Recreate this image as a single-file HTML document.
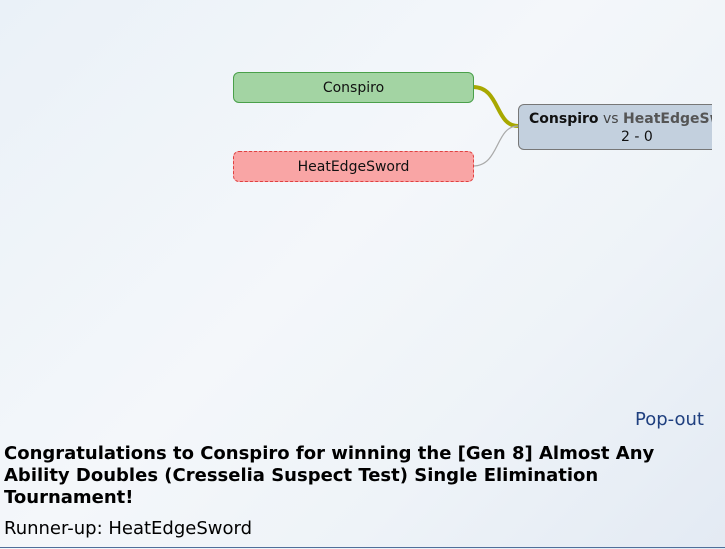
<!DOCTYPE html>
<html><head><style>
body{margin:0;width:725px;height:549px;overflow:hidden;background:linear-gradient(135deg,#eaf1f8 0%,#f4f7fa 45%,#eef3f8 70%,#e3eaf3 100%);font-family:"DejaVu Sans","Liberation Sans",sans-serif;position:relative}
.n{position:absolute;box-sizing:border-box;border-radius:6px;font-size:14px;text-align:center;color:#111}
.b{position:absolute;left:4px;font-weight:bold;font-size:18px;line-height:22px;white-space:nowrap;color:#000;top:443px}
</style></head><body>
<svg width="725" height="549" style="position:absolute;left:0;top:0">
<path d="M473 87 C500 87,495 126,518 126" stroke="#a8a800" stroke-width="4" fill="none"/>
<path d="M473 166 C500 166,495 126,518 126" stroke="#aaa" stroke-width="1.2" fill="none"/>
</svg>
<div class="n" style="left:233px;top:72px;width:241px;height:31px;background:#a3d4a3;border:1px solid #4aa04a;line-height:31px">Conspiro</div>
<div class="n" style="left:233px;top:151px;width:241px;height:31px;background:#f9a5a5;border:1.5px dashed #e04040;line-height:30px">HeatEdgeSword</div>
<div style="position:absolute;left:518px;top:104px;width:194px;height:46px;overflow:hidden">
<div class="n" style="left:0;top:0;width:240px;height:46px;background:#c3d0de;border:1px solid #777;text-align:left;padding:5px 0 0 10px;line-height:18px;white-space:nowrap"><b>Conspiro</b> <span style="color:#444">vs</span> <b style="color:#555">HeatEdgeSword</b><br><span style="padding-left:92px">2 - 0</span></div>
</div>
<div style="position:absolute;right:21px;top:409px;font-size:18px;color:#1f3f7f">Pop-out</div>
<div class="b">Congratulations to Conspiro for winning the [Gen 8] Almost Any<br>Ability Doubles (Cresselia Suspect Test) Single Elimination<br>Tournament!</div>
<div style="position:absolute;left:4px;top:518px;font-size:18px;white-space:nowrap">Runner-up: HeatEdgeSword</div>
<div style="position:absolute;left:0;top:547px;width:725px;height:1px;background:#4f6f9a"></div>
</body></html>
